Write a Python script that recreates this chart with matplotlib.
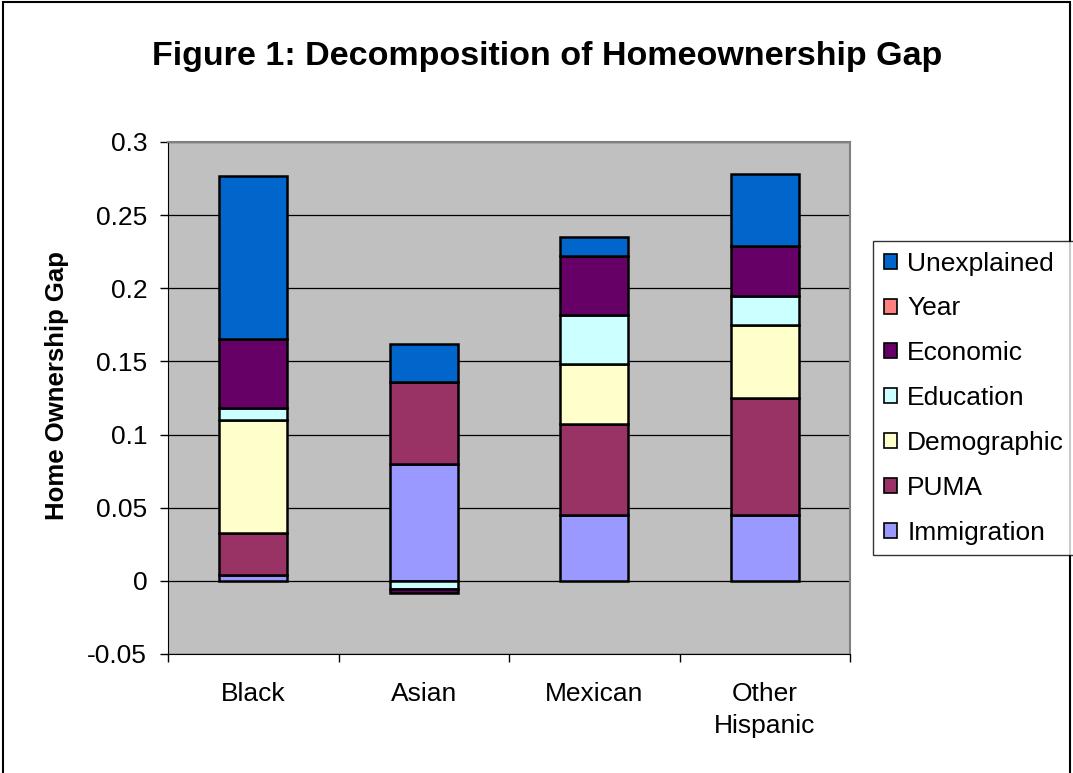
import matplotlib
matplotlib.use("Agg")
import matplotlib.pyplot as plt
from matplotlib.patches import Rectangle
import numpy as np

plt.rcParams['font.family'] = ['Liberation Sans', 'DejaVu Sans']

categories = ["Black", "Asian", "Mexican", "Other\nHispanic"]
series_names = ["Immigration", "PUMA", "Demographic", "Education", "Economic", "Year", "Unexplained"]
immigration = [0.004, 0.080, 0.045, 0.045]
puma = [0.029, 0.056, 0.062, 0.080]
demographic = [0.077, 0.0, 0.041, 0.050]
education = [0.008, -0.0055, 0.034, 0.020]
economic = [0.047, -0.003, 0.040, 0.034]
year = [0.0, 0.0, 0.0, 0.0]
unexplained = [0.112, 0.026, 0.013, 0.049]
colors = ["#9999FF", "#993366", "#FFFFCC", "#CCFFFF", "#660066", "#FF8080", "#0066CC"]
yticks = [-0.05, 0, 0.05, 0.1, 0.15, 0.2, 0.25, 0.3]
ytick_labels = ["-0.05", "0", "0.05", "0.1", "0.15", "0.2", "0.25", "0.3"]

data = [immigration, puma, demographic, education, economic, year, unexplained]

FS = 19

fig = plt.figure(figsize=(10.73, 7.73), dpi=100)
fig.patch.set_facecolor("white")
# outer chart border
fig.add_artist(Rectangle((0.003, -0.01), 0.994, 1.007, transform=fig.transFigure,
                         fill=False, edgecolor="black", linewidth=1.5))

W, H = 1073, 773
ax = fig.add_axes([168 / W, 1 - 654 / H, (850 - 168) / W, (654 - 142) / H])
ax.set_facecolor("#C0C0C0")

x = np.arange(len(categories))
pos_bottom = np.zeros(len(categories))
neg_bottom = np.zeros(len(categories))
handles = []
for name, vals, c in zip(series_names, data, colors):
    vals = np.array(vals)
    bottoms = np.where(vals >= 0, pos_bottom, neg_bottom)
    bars = ax.bar(x, vals, width=0.4, bottom=bottoms, color=c, edgecolor="black",
                  linewidth=1.8, zorder=3, label=name)
    handles.append(bars)
    pos_bottom = pos_bottom + np.where(vals > 0, vals, 0)
    neg_bottom = neg_bottom + np.where(vals < 0, vals, 0)

ax.set_xlim(-0.5, len(categories) - 0.5)
ax.set_ylim(-0.05, 0.3)
ax.set_yticks(yticks)
ax.set_yticklabels(ytick_labels, fontsize=FS)
ax.yaxis.grid(True, color="black", linewidth=0.9, zorder=1)
ax.set_axisbelow(True)

ax.set_xticks(x)
ax.set_xticklabels(categories, fontsize=FS, linespacing=1.45)
ax.set_xticks(np.arange(-0.5, len(categories)), minor=True)
ax.tick_params(axis="x", which="major", length=0, pad=20)
ax.tick_params(axis="x", which="minor", length=6, width=1, color="black", direction="out")
ax.tick_params(axis="y", length=6, width=1, color="black", direction="out", pad=9)

for side in ["top", "right"]:
    ax.spines[side].set_color("#808080")
    ax.spines[side].set_linewidth(1.5)
ax.spines["left"].set_color("black")
ax.spines["bottom"].set_color("black")

ax.set_ylabel("Home Ownership Gap", fontsize=18.5, fontweight="bold")
ax.yaxis.set_label_coords(-(168 - 69) / (850 - 168), 0.525)

fig.text(547 / W, 1 - 57 / H, "Figure 1: Decomposition of Homeownership Gap",
         fontsize=24.5, fontweight="bold", ha="center", va="center")

leg = fig.legend(handles[::-1], series_names[::-1], loc="upper left",
                 bbox_to_anchor=(873 / W, 1 - 241 / H), fontsize=FS,
                 frameon=True, fancybox=False, edgecolor="black",
                 handlelength=0.5, handleheight=0.5, handletextpad=0.4,
                 labelspacing=0.79, borderpad=0.4, borderaxespad=0)
leg.get_frame().set_linewidth(1.0)
for p in leg.get_patches():
    p.set_linewidth(1.2)

fig.savefig("out.png", dpi=100)
